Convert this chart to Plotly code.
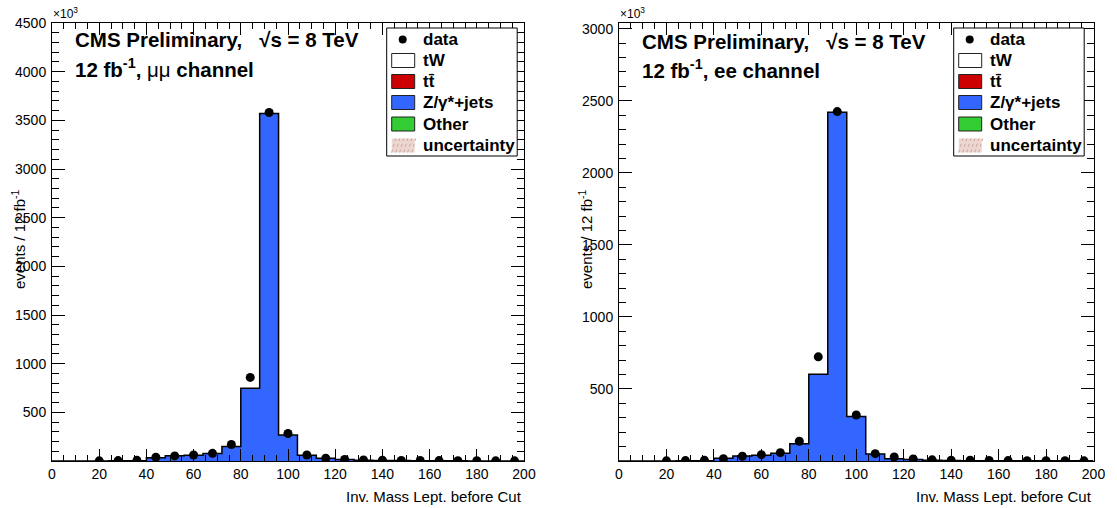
import plotly.graph_objects as go

# ---------------- data ----------------
bin_edges = [0, 8, 16, 24, 32, 40, 48, 56, 64, 72, 80, 88, 96, 104, 112, 120,
             128, 136, 144, 152, 160, 168, 176, 184, 192, 200]

# stacked MC (Z/gamma*+jets dominates; values in units of 10^3 events)
mc_mumu = [0, 0, 0, 2, 3, 34, 55, 60, 76, 148, 748, 3570, 266, 59, 28, 15,
           8, 5, 4, 3, 2, 2, 1, 1, 1]
mc_ee = [0, 0, 0, 1, 2, 19, 35, 40, 53, 119, 602, 2420, 309, 49, 16, 10,
         5, 3, 2, 2, 1, 1, 1, 1, 1]

# data per bin (None = empty bin)
data_mumu = [None, None, 2, 4, 7, 38, 52, 62, 79, 169, 859, 3580, 283, 62, 28,
             16, 10, 8, 6, 5, 4, 3, 3, 2, 2]
data_ee = [None, None, 1, 3, 5, 16, 33, 44, 58, 137, 723, 2425, 319, 51, 28,
           14, 8, 6, 5, 4, 3, 2, 2, 2, 1]

x_ticks = [0, 20, 40, 60, 80, 100, 120, 140, 160, 180, 200]
y_ticks_mumu = [500, 1000, 1500, 2000, 2500, 3000, 3500, 4000, 4500]
y_ticks_ee = [500, 1000, 1500, 2000, 2500, 3000]

legend_labels = ["data", "tW", "tt\u0304", "Z/\u03b3*+jets", "Other", "uncertainty"]
legend_colors = [None, "#ffffff", "#cc0000", "#3366ff", "#33cc33", None]

BLUE = "#3366ff"
W, H = 1117, 508
FONT = "Liberation Sans, Arial, Helvetica, sans-serif"


def px(x):
    return x / W


def py(y):
    return 1 - y / H


centers = [(bin_edges[i] + bin_edges[i + 1]) / 2 for i in range(len(bin_edges) - 1)]

fig = go.Figure()

panels = [
    dict(mc=mc_mumu, data=data_mumu, xa="x", ya="y", yticks=y_ticks_mumu,
         ymax=4500, x0=52, x1=524, chan="<span style='font-weight:normal'>\u03bc\u03bc</span> channel"),
    dict(mc=mc_ee, data=data_ee, xa="x2", ya="y2", yticks=y_ticks_ee,
         ymax=3040, x0=619, x1=1093.5, chan="ee channel"),
]

top_px, bot_px = 23, 461

annotations = []
shapes = []

for k, p in enumerate(panels):
    # stacked MC histogram drawn as step
    fig.add_trace(go.Scatter(
        x=bin_edges, y=p["mc"] + [p["mc"][-1]], xaxis=p["xa"], yaxis=p["ya"],
        mode="lines", line=dict(shape="hv", color="black", width=1.5),
        fill="tozeroy", fillcolor=BLUE, showlegend=False, hoverinfo="skip"))
    # data points
    xs = [c for c, v in zip(centers, p["data"]) if v is not None]
    ys = [v for v in p["data"] if v is not None]
    fig.add_trace(go.Scatter(
        x=xs, y=ys, xaxis=p["xa"], yaxis=p["ya"], mode="markers",
        marker=dict(color="black", size=9), showlegend=False))

    sfx = "" if k == 0 else str(k + 1)
    axis_common = dict(showline=True, linecolor="black", linewidth=1,
                       mirror="allticks", ticks="inside", tickcolor="black",
                       showgrid=False, zeroline=False, automargin=False,
                       tickfont=dict(family=FONT, size=14, color="black"))
    fig.layout["xaxis" + sfx] = dict(
        domain=[px(p["x0"]), px(p["x1"])], range=[0, 200], anchor="y" + sfx,
        tickvals=x_ticks, ticklen=12,
        minor=dict(dtick=5, tick0=0, ticks="inside", ticklen=6, tickcolor="black"),
        **axis_common)
    fig.layout["yaxis" + sfx] = dict(
        domain=[py(bot_px), py(top_px)], range=[0, p["ymax"]], anchor="x" + sfx,
        tickvals=p["yticks"], ticklen=13, ticklabelstandoff=2,
        minor=dict(dtick=100, tick0=0, ticks="inside", ticklen=7, tickcolor="black"),
        **axis_common)

    x0 = p["x0"]
    x1 = p["x1"]
    # x10^3
    annotations.append(dict(x=px(x0 - 1), y=py(13), xref="paper", yref="paper",
                            text="\u00d710<sup>3</sup>", showarrow=False,
                            xanchor="left", yanchor="middle",
                            font=dict(family=FONT, size=12, color="black")))
    # header text
    annotations.append(dict(x=px(x0 + 21), y=py(40 + k * 1.5), xref="paper", yref="paper",
                            text="<b>CMS Preliminary,\u00a0\u00a0 \u221as = 8 TeV</b>",
                            showarrow=False, xanchor="left", yanchor="middle",
                            font=dict(family=FONT, size=20.5, color="black")))
    annotations.append(dict(x=px(x0 + 21), y=py(68 + k * 1.5), xref="paper", yref="paper",
                            text="<b>12 fb<sup>-1</sup>, " + p["chan"] + "</b>",
                            showarrow=False, xanchor="left", yanchor="middle",
                            font=dict(family=FONT, size=20.5, color="black")))
    # axis titles
    annotations.append(dict(x=px(x1), y=py(496), xref="paper", yref="paper",
                            text="Inv. Mass Lept. before Cut", showarrow=False,
                            xanchor="right", yanchor="middle",
                            font=dict(family=FONT, size=15, color="black")))
    annotations.append(dict(x=px(x0 - 34), y=py(239), xref="paper", yref="paper",
                            text="events / 12 fb<sup>-1</sup>", showarrow=False,
                            textangle=-90, xanchor="center", yanchor="middle",
                            font=dict(family=FONT, size=15, color="black")))

    # legend box
    lx0 = x0 + 334.7
    lx1 = lx0 + 130.5
    shapes.append(dict(type="rect", xref="paper", yref="paper",
                       x0=px(lx0), x1=px(lx1), y0=py(28), y1=py(156),
                       line=dict(color="black", width=1), fillcolor="white", layer="above"))
    row_y = [39.5, 60.5, 81.5, 102.5, 124, 145.5]
    for lab, col, ry in zip(legend_labels, legend_colors, row_y):
        annotations.append(dict(x=px(lx0 + 34), y=py(ry), xref="paper", yref="paper",
                                text="<b>" + lab + "</b>", showarrow=False,
                                xanchor="left", yanchor="middle",
                                font=dict(family=FONT, size=17, color="black")))
        if lab == "data":
            shapes.append(dict(type="circle", xref="paper", yref="paper",
                               x0=px(lx0 + 12), x1=px(lx0 + 20), y0=py(ry - 4), y1=py(ry + 4),
                               fillcolor="black", line=dict(color="black", width=0),
                               layer="above"))
        elif lab == "uncertainty":
            shapes.append(dict(type="rect", xref="paper", yref="paper",
                               x0=px(lx0 + 5), x1=px(lx0 + 28), y0=py(ry - 7), y1=py(ry + 7),
                               fillcolor="#ecd6cf", line=dict(width=0), layer="above"))
            for j in range(6):
                xa = lx0 + 5 + j * 4
                shapes.append(dict(type="line", xref="paper", yref="paper",
                                   x0=px(xa), x1=px(xa + 4), y0=py(ry + 7), y1=py(ry - 7),
                                   line=dict(color="#c9a59a", width=1, dash="dot"),
                                   layer="above"))
        else:
            shapes.append(dict(type="rect", xref="paper", yref="paper",
                               x0=px(lx0 + 5), x1=px(lx0 + 28), y0=py(ry - 7), y1=py(ry + 7),
                               fillcolor=col, line=dict(color="#222222", width=1),
                               layer="above"))

fig.update_layout(
    width=W, height=H, margin=dict(l=0, r=0, t=0, b=0, pad=0),
    paper_bgcolor="white", plot_bgcolor="white",
    showlegend=False, annotations=annotations, shapes=shapes,
    font=dict(family=FONT, color="black"),
)

fig.write_html("out.html", config={"displayModeBar": False},
               post_script="document.body.style.margin='0px';document.body.style.overflow='hidden';")
